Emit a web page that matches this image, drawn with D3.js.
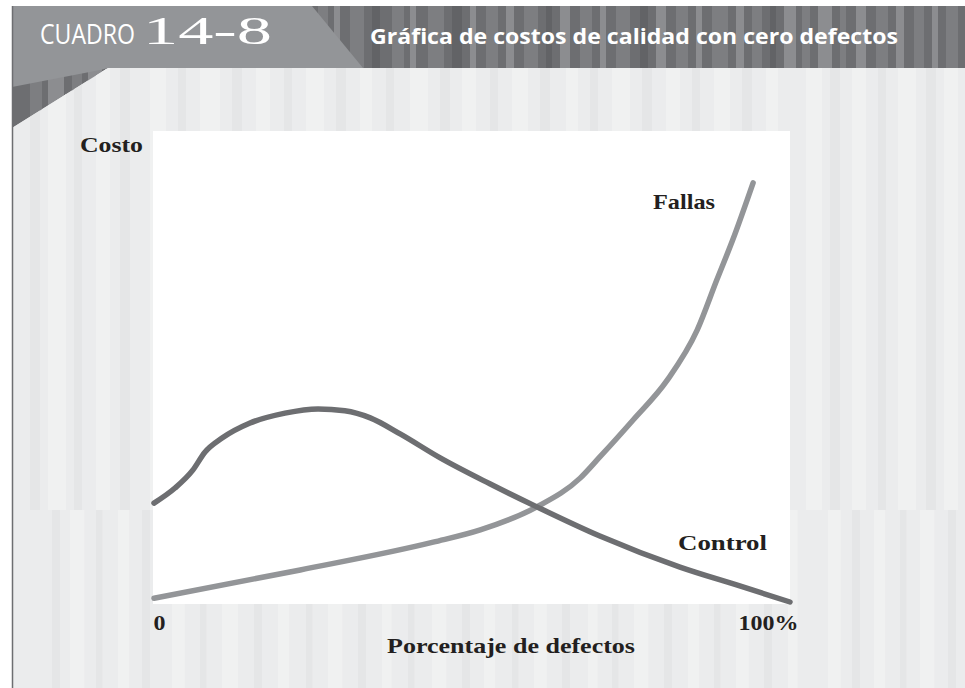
<!DOCTYPE html>
<html>
<head>
<meta charset="utf-8">
<script src="https://cdn.jsdelivr.net/npm/d3@7"></script>
<style>
  body { margin: 0; background: #fff; }
  svg { display: block; }
</style>
</head>
<body>
<div id="chart"></div>
<script>
// data: % defects vs cost (0-100 both ways)
var controlX = [0, 3.3, 6.1, 8.0, 10.7, 15.1, 20.6, 25.8, 30.0, 34.0, 38.7, 45.0, 52.8, 60.2, 70.1, 82.7, 92.1, 100];
var controlY = [21.0, 24.2, 28.0, 31.8, 34.8, 38.0, 40.1, 41.0, 40.6, 39.1, 35.7, 30.6, 25.1, 20.2, 14.0, 7.4, 3.4, 0];
var fallasX = [0, 23.0, 43.9, 51.3, 60.2, 67.0, 70.1, 75.3, 80.7, 85.4, 88.5, 91.0, 94.2];
var fallasY = [0.8, 6.8, 12.7, 15.3, 20.2, 26.3, 30.8, 38.6, 47.1, 57.7, 68.4, 76.9, 89.0];
var xTicks = [0, 100];

// decorative stripes [x, width, shade]
var headStripes = [[318,10,1],[334,6,2],[350,14,1],[372,8,0],[392,12,1],[410,6,2],[428,16,1],[452,10,0],[470,6,2],[486,12,1],
  [506,8,2],[524,14,1],[546,6,0],[560,10,2],[580,12,1],[600,6,2],[616,14,1],[640,8,0],[656,10,2],[676,12,1],[696,6,2],
  [712,16,1],[736,8,2],[752,10,1],[770,6,0],[784,12,2],[802,8,1],[818,14,2],[840,6,1],[856,10,2],[876,12,1],[896,8,2],
  [914,10,1],[932,6,2],[946,12,1]];
var wedgeStripes = [[30,12,1],[48,16,2],[72,10,1],[88,14,2]];
var bgStripes = [[30,10,0],[48,18,1],[74,8,0],[96,14,1],[120,10,0],[150,16,1],[178,8,0],[200,20,1],[232,10,0],[256,14,1],
  [284,8,0],[306,18,1],[336,10,0],[360,12,1],[386,8,0],[410,18,1],[440,10,0],[462,14,1],[490,8,0],[512,16,1],[540,10,0],
  [566,12,1],[590,8,0],[612,18,1],[642,10,0],[666,14,1],[692,8,0],[714,16,1],[742,10,0],[766,12,1],[806,16,1],[830,10,0],
  [852,14,1],[878,8,0],[898,18,1],[926,10,0],[944,14,1]];

var W = 965, H = 688;
var svg = d3.select("#chart").append("svg").attr("width", W).attr("height", H);

// light striped background
svg.append("rect").attr("x", 12).attr("y", 6).attr("width", W - 12).attr("height", H - 6).attr("fill", "#ebeced");
var bgShade = ["#e5e6e7", "#f0f1f1"];
svg.selectAll(".bgs").data(bgStripes).enter().append("rect")
    .attr("x", function(d) { return d[0]; })
    .attr("y", 68)
    .attr("width", function(d) { return d[1]; })
    .attr("height", 442)
    .attr("fill", function(d) { return bgShade[d[2]]; });
svg.selectAll(".bgs2").data(bgStripes).enter().append("rect")
    .attr("x", function(d) { return d[0] + 22; })
    .attr("y", 510)
    .attr("width", function(d) { return d[1] * 0.8; })
    .attr("height", H - 510)
    .attr("fill", function(d) { return bgShade[d[2]]; });

// header band
var darkShade = ["#626366", "#7d7e81", "#8c8d90"];
svg.append("rect").attr("x", 12).attr("y", 6).attr("width", W - 12).attr("height", 62).attr("fill", "#6d6e71");
svg.selectAll(".hs").data(headStripes).enter().append("rect")
    .attr("x", function(d) { return d[0]; })
    .attr("y", 6)
    .attr("width", function(d) { return d[1]; })
    .attr("height", 62)
    .attr("fill", function(d) { return darkShade[d[2]]; });
svg.append("path").attr("d", "M12,6L312,6L363,68L12,68Z").attr("fill", "#939598");

// wedge under header
svg.append("path").attr("d", "M12,68L108,68L12,128Z").attr("fill", "#6d6e71");
svg.selectAll(".ws").data(wedgeStripes).enter().append("rect")
    .attr("x", function(d) { return d[0]; })
    .attr("y", 68)
    .attr("width", function(d) { return d[1]; })
    .attr("height", 60)
    .attr("fill", function(d) { return darkShade[d[2]]; });
svg.append("clipPath").attr("id", "wclip").append("path").attr("d", "M108,68L12,128L12,200L160,200L160,68Z");
svg.append("path").attr("d", "M108,68L12,128L12,200L160,200L160,68Z").attr("fill", "#ebeced");
svg.selectAll(".bgw").data(bgStripes.filter(function(d) { return d[0] < 160; })).enter().append("rect")
    .attr("x", function(d) { return d[0]; })
    .attr("y", 68)
    .attr("width", function(d) { return d[1]; })
    .attr("height", 132)
    .attr("fill", function(d) { return bgShade[d[2]]; })
    .attr("clip-path", "url(#wclip)");
svg.append("path").attr("d", "M12,68L108,68L100,70L12,87Z").attr("fill", "#939598");

// left frame line
svg.append("line").attr("x1", 12.5).attr("x2", 12.5).attr("y1", 6).attr("y2", H)
    .attr("stroke", "#6d6e71").attr("stroke-width", 1.5);

// header text (stretched to the widths in the picture)
svg.append("text").attr("x", 40).attr("y", 44)
    .attr("font-family", "'Open Sans', sans-serif").attr("font-size", "27px").attr("fill", "#fff")
    .attr("textLength", 95).attr("lengthAdjust", "spacingAndGlyphs")
    .text("CUADRO");
svg.append("text").attr("x", 143).attr("y", 44)
    .attr("font-family", "'Liberation Serif', serif").attr("font-size", "40px").attr("fill", "#fff")
    .attr("textLength", 129).attr("lengthAdjust", "spacingAndGlyphs")
    .text("14-8");
svg.append("text").attr("x", 370).attr("y", 44)
    .attr("font-family", "'Open Sans', sans-serif").attr("font-weight", "bold").attr("font-size", "21px")
    .attr("fill", "#fff")
    .attr("textLength", 528).attr("lengthAdjust", "spacingAndGlyphs")
    .text("Gráfica de costos de calidad con cero defectos");

// plot area
var x = d3.scaleLinear().domain([0, 100]).range([154, 790]);
var y = d3.scaleLinear().domain([0, 100]).range([602, 131]);
svg.append("rect").attr("x", 153).attr("y", 131).attr("width", 637).attr("height", 473).attr("fill", "#fff");

var line = d3.line()
    .x(function(d) { return x(d[0]); })
    .y(function(d) { return y(d[1]); })
    .curve(d3.curveMonotoneX);

svg.append("path").datum(d3.zip(fallasX, fallasY))
    .attr("d", line).attr("fill", "none")
    .attr("stroke", "#939598").attr("stroke-width", 5.5).attr("stroke-linecap", "round");
svg.append("path").datum(d3.zip(controlX, controlY))
    .attr("d", line).attr("fill", "none")
    .attr("stroke", "#6d6e71").attr("stroke-width", 5.5).attr("stroke-linecap", "round");

// axis labels
var serif = "'Liberation Serif', 'Times New Roman', serif";
var ax = svg.append("g").attr("transform", "translate(0,604)")
    .call(d3.axisBottom(x).tickValues(xTicks).tickSize(0).tickPadding(0)
        .tickFormat(function(d) { return d === 0 ? "0" : d + "%"; }));
ax.select(".domain").remove();
ax.selectAll("text")
    .attr("dy", null).attr("y", 26)
    .attr("font-family", serif).attr("font-weight", "bold").attr("font-size", "22px").attr("fill", "#231f20")
    .attr("text-anchor", "start")
    .attr("dx", function(d) { return d === 0 ? -1 : -52; })
    .attr("textLength", function(d) { return d === 0 ? 12 : 60; })
    .attr("lengthAdjust", "spacingAndGlyphs");

function label(t, px, py, len) {
  svg.append("text").attr("x", px).attr("y", py)
      .attr("font-family", serif).attr("font-weight", "bold").attr("font-size", "22px").attr("fill", "#231f20")
      .attr("textLength", len).attr("lengthAdjust", "spacingAndGlyphs")
      .text(t);
}
label("Costo", 80, 152, 63);
label("Porcentaje de defectos", 387, 653, 248);
label("Fallas", 653, 209, 62);
label("Control", 678, 550, 89);
</script>
</body>
</html>
